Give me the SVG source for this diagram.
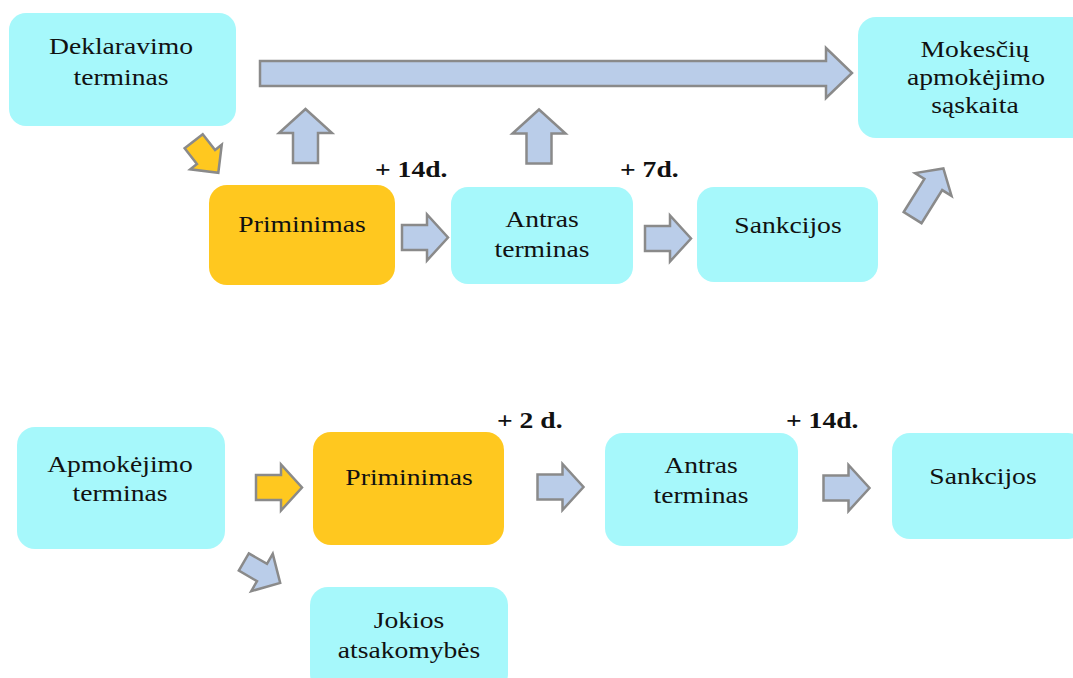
<svg xmlns="http://www.w3.org/2000/svg" width="1073" height="678" viewBox="0 0 1073 678">
<style>
.box{fill:#A6F8FB;}
.ybox{fill:#FFC81F;}
.t{font-family:"Liberation Serif","Times New Roman",serif;font-size:24px;fill:#111;text-anchor:middle;}
.b{font-family:"Liberation Serif","Times New Roman",serif;font-size:24px;font-weight:bold;fill:#111;}
.arr{fill:#BACDE9;stroke:#8A8A8A;stroke-width:2.5;stroke-linejoin:miter;}
.yarr{fill:#FFC81F;stroke:#8A8A8A;stroke-width:2.5;stroke-linejoin:miter;}
</style>
<defs>
<path id="ra" d="M -23,-12.5 H 2 V -23 L 23,0 L 2,23 V 12.5 H -23 Z"/>
<path id="ua" d="M -12.5,27 V -3 H -26.5 L 0,-27 L 26.5,-3 H 12.5 V 27 Z"/>
</defs>
<rect width="1073" height="678" fill="#fff"/>

<g id="connectors">
<path class="arr" d="M 260,61 H 826 V 48 L 852,73 L 826,98 V 86 H 260 Z"/>
<use href="#ua" class="arr" transform="translate(305.5,136)"/>
<use href="#ua" class="arr" transform="translate(539,136.5)"/>
<path class="yarr" d="M -20,-11.5 H 0 V -20 L 20,0 L 0,20 V 11.5 H -20 Z" transform="translate(206,157) rotate(52)"/>
<use href="#ra" class="arr" transform="translate(425,237.5)"/>
<use href="#ra" class="arr" transform="translate(668,238.5)"/>
<path class="arr" d="M -29,-10.5 H 10 V -21.5 L 29,0 L 10,21.5 V 10.5 H -29 Z" transform="translate(928,193) rotate(-58)"/>
<use href="#ra" class="yarr" transform="translate(279,487.5)"/>
<use href="#ra" class="arr" transform="translate(560.5,487)"/>
<use href="#ra" class="arr" transform="translate(846.5,488)"/>
<path class="arr" d="M -21,-10 H 0 V -21.5 L 21,0 L 0,21.5 V 10 H -21 Z" transform="translate(262,572.5) rotate(30)"/>
</g>

<g id="deklaravimo">
<rect class="box" x="9" y="13" width="227" height="113" rx="17"/>
<text class="t" transform="translate(121,54) scale(1.15,1)">Deklaravimo</text>
<text class="t" transform="translate(121,85) scale(1.15,1)">terminas</text>
</g>
<g id="mokesciu">
<rect class="box" x="858" y="17" width="236" height="121" rx="18"/>
<text class="t" transform="translate(975,57) scale(1.15,1)">Mokesčių</text>
<text class="t" transform="translate(976,85) scale(1.15,1)">apmokėjimo</text>
<text class="t" transform="translate(975,113) scale(1.15,1)">sąskaita</text>
</g>
<g id="priminimas1">
<rect class="ybox" x="209" y="185" width="186" height="100" rx="18"/>
<text class="t" transform="translate(302,232) scale(1.15,1)">Priminimas</text>
</g>
<g id="antras1">
<rect class="box" x="451" y="187" width="182" height="97" rx="17"/>
<text class="t" transform="translate(542,227) scale(1.15,1)">Antras</text>
<text class="t" transform="translate(542,257) scale(1.15,1)">terminas</text>
</g>
<g id="sankcijos1">
<rect class="box" x="697" y="187" width="181" height="95" rx="17"/>
<text class="t" transform="translate(788,233) scale(1.15,1)">Sankcijos</text>
</g>
<g id="label14a"><text class="b" transform="translate(375,177) scale(1.15,1)">+ 14d.</text></g>
<g id="label7"><text class="b" transform="translate(620,177) scale(1.15,1)">+ 7d.</text></g>

<g id="apmokejimo">
<rect class="box" x="17" y="427" width="208" height="122" rx="18"/>
<text class="t" transform="translate(120,472) scale(1.15,1)">Apmokėjimo</text>
<text class="t" transform="translate(120,501) scale(1.15,1)">terminas</text>
</g>
<g id="priminimas2">
<rect class="ybox" x="313" y="432" width="191" height="113" rx="18"/>
<text class="t" transform="translate(409,485) scale(1.15,1)">Priminimas</text>
</g>
<g id="antras2">
<rect class="box" x="605" y="433" width="193" height="113" rx="18"/>
<text class="t" transform="translate(701,473) scale(1.15,1)">Antras</text>
<text class="t" transform="translate(701,503) scale(1.15,1)">terminas</text>
</g>
<g id="sankcijos2">
<rect class="box" x="892" y="433" width="194" height="106" rx="18"/>
<text class="t" transform="translate(983,484) scale(1.15,1)">Sankcijos</text>
</g>
<g id="jokios">
<rect class="box" x="310" y="587" width="198" height="105" rx="18"/>
<text class="t" transform="translate(409,628) scale(1.15,1)">Jokios</text>
<text class="t" transform="translate(409,658) scale(1.15,1)">atsakomybės</text>
</g>
<g id="label2"><text class="b" transform="translate(497,428) scale(1.15,1)">+ 2 d.</text></g>
<g id="label14b"><text class="b" transform="translate(786,428) scale(1.15,1)">+ 14d.</text></g>
</svg>
